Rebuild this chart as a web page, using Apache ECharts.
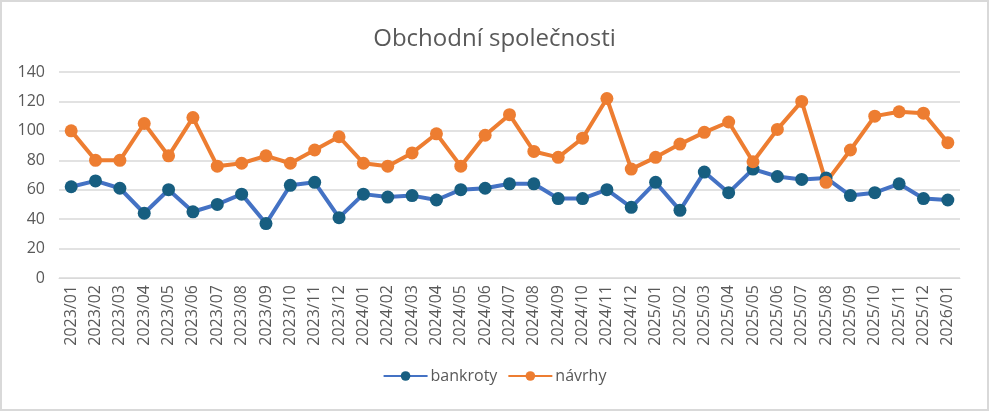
<!DOCTYPE html>
<html>
<head>
<meta charset="utf-8">
<script src="https://cdn.jsdelivr.net/npm/echarts@6/dist/echarts.min.js"></script>
<style>
  html, body { margin: 0; padding: 0; background: #fff; }
  #chart { width: 989px; height: 411px; box-sizing: border-box; border: 2px solid #d9d9d9; }
</style>
</head>
<body>
<div id="chart"></div>
<script>
// mesice
const months = [
  '2023/01', '2023/02', '2023/03', '2023/04', '2023/05', '2023/06', '2023/07', '2023/08', '2023/09', '2023/10', '2023/11', '2023/12',
  '2024/01', '2024/02', '2024/03', '2024/04', '2024/05', '2024/06', '2024/07', '2024/08', '2024/09', '2024/10', '2024/11', '2024/12',
  '2025/01', '2025/02', '2025/03', '2025/04', '2025/05', '2025/06', '2025/07', '2025/08', '2025/09', '2025/10', '2025/11', '2025/12',
  '2026/01'
];
const bankroty = [
  62, 66, 61, 44, 60, 45, 50, 57, 37, 63, 65, 41,
  57, 55, 56, 53, 60, 61, 64, 64, 54, 54, 60, 48,
  65, 46, 72, 58, 74, 69, 67, 68, 56, 58, 64, 54,
  53
];
const navrhy = [
  100, 80, 80, 105, 83, 109, 76, 78, 83, 78, 87, 96,
  78, 76, 85, 98, 76, 97, 111, 86, 82, 95, 122, 74,
  82, 91, 99, 106, 79, 101, 120, 65, 87, 110, 113, 112,
  92
];

const chart = echarts.init(document.getElementById('chart'), null, { renderer: 'canvas' });
const fontFam = '"Open Sans", "Noto Sans", sans-serif';

let option = {
  animation: false,
  title: {
    text: 'Obchodní společnosti',
    left: 'center',
    top: 20,
    textStyle: { fontFamily: fontFam, fontSize: 24, fontWeight: 'normal', color: '#595959' }
  },
  legend: {
    bottom: 20,
    left: 'center',
    itemWidth: 44,
    itemHeight: 12,
    itemGap: 10,
    textStyle: { fontFamily: fontFam, fontSize: 16, color: '#595959', padding: [0, 0, 0, -2] },
    data: ['bankroty', 'návrhy']
  },
  grid: { left: 57, right: 27, top: 70, bottom: 131, containLabel: false },
  xAxis: {
    type: 'category',
    data: months,
    boundaryGap: true,
    axisLine: { lineStyle: { color: '#d9d9d9', width: 1 } },
    axisTick: { show: false },
    axisLabel: { rotate: 90, interval: 0, fontFamily: fontFam, fontSize: 16, color: '#595959', margin: 7 }
  },
  yAxis: {
    type: 'value',
    min: 0,
    max: 140,
    interval: 20,
    axisLine: { show: false },
    axisTick: { show: false },
    axisLabel: { fontFamily: fontFam, fontSize: 16, color: '#595959', margin: 14 },
    splitLine: { lineStyle: { color: '#d9d9d9', width: 1.5 } }
  },
  series: [
    {
      name: 'bankroty',
      type: 'line',
      data: bankroty,
      symbol: 'circle',
      symbolSize: 13,
      lineStyle: { color: '#4472c4', width: 4 },
      itemStyle: { color: '#175e80', borderWidth: 0 }
    },
    {
      name: 'návrhy',
      type: 'line',
      data: navrhy,
      symbol: 'circle',
      symbolSize: 13,
      lineStyle: { color: '#ed7d31', width: 4 },
      itemStyle: { color: '#ed7d31', borderWidth: 0 }
    }
  ]
};
chart.setOption(option);
</script>
</body>
</html>
